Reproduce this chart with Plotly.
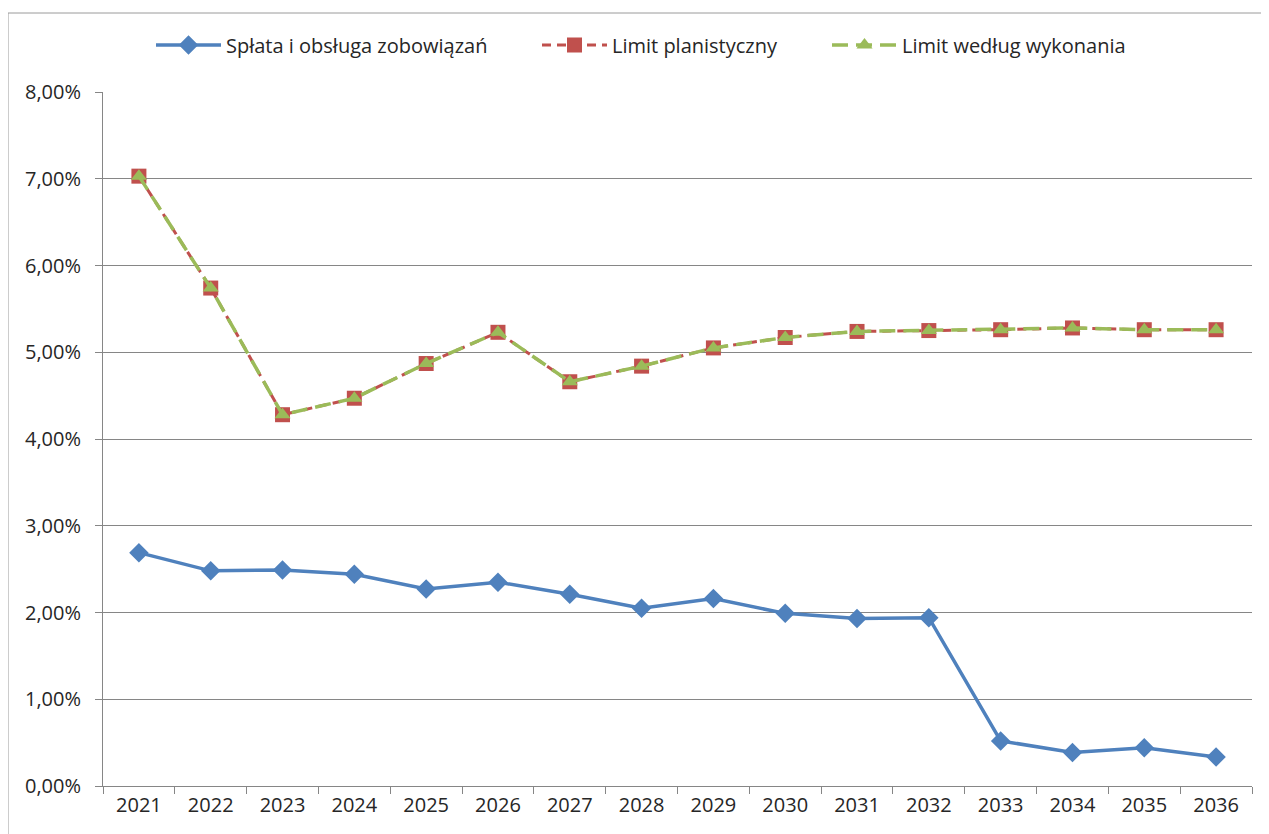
import plotly.graph_objects as go

years = [str(y) for y in range(2021, 2037)]
splata = [2.69, 2.48, 2.49, 2.44, 2.27, 2.35, 2.21, 2.05, 2.16, 1.99, 1.93, 1.94, 0.52, 0.385, 0.44, 0.335]
limit_plan = [7.03, 5.74, 4.28, 4.47, 4.87, 5.23, 4.66, 4.84, 5.05, 5.17, 5.24, 5.25, 5.26, 5.28, 5.26, 5.26]
limit_wyk = [7.03, 5.74, 4.28, 4.47, 4.87, 5.23, 4.66, 4.84, 5.05, 5.17, 5.24, 5.25, 5.26, 5.28, 5.26, 5.26]
y_ticks = [0, 1, 2, 3, 4, 5, 6, 7, 8]
y_tick_labels = ["0,00%", "1,00%", "2,00%", "3,00%", "4,00%", "5,00%", "6,00%", "7,00%", "8,00%"]

FONT = "Open Sans, Lato, sans-serif"
OFF = 8  # page body margin
W, H = 1269 - OFF, 834 - OFF
L, R, T, B = 103 - OFF, 17, 92 - OFF, 48
PW, PH = W - L - R, H - T - B


def px_x(screen_px):
    return (screen_px - OFF - L) / PW


def px_y(screen_py):
    return 1 + (T + OFF - screen_py) / PH


fig = go.Figure()
fig.add_trace(go.Scatter(
    x=years, y=splata, name="Spłata i obsługa zobowiązań", mode="lines+markers",
    line=dict(color="#4F81BD", width=3.5),
    marker=dict(symbol="diamond", size=15, color="#4F81BD"),
    legend="legend",
))
fig.add_trace(go.Scatter(
    x=years, y=limit_plan, name="Limit planistyczny", mode="lines+markers",
    line=dict(color="#C0504D", width=3, dash="9px,6px"),
    marker=dict(symbol="square", size=15, color="#C0504D"),
    legend="legend2",
))
fig.add_trace(go.Scatter(
    x=years, y=limit_wyk, name="Limit według wykonania", mode="lines+markers",
    line=dict(color="#9BBB59", width=3.5, dash="16px,8px"),
    marker=dict(symbol="triangle-up", size=14, color="#9BBB59"),
    legend="legend3",
))

leg_common = dict(orientation="h", xanchor="left", yanchor="middle", y=px_y(45),
                  font=dict(family=FONT, size=20, color="#262626"),
                  bgcolor="rgba(0,0,0,0)", itemwidth=65)
TXT_OFF = 76

fig.update_layout(
    width=W, height=H,
    margin=dict(l=L, r=R, t=T, b=B, autoexpand=False),
    paper_bgcolor="white", plot_bgcolor="white",
    font=dict(family=FONT, size=20, color="#262626"),
    showlegend=True,
    legend=dict(x=px_x(227 - TXT_OFF), **leg_common),
    legend2=dict(x=px_x(613 - TXT_OFF), **leg_common),
    legend3=dict(x=px_x(903 - TXT_OFF), **leg_common),
    xaxis=dict(type="category", range=[-0.5, len(years) - 0.5], showgrid=False,
               showline=True, linecolor="#868686", linewidth=1,
               ticks="outside", tickson="boundaries", ticklen=7, tickcolor="#868686",
               ticklabelstandoff=1, automargin=False,
               tickfont=dict(family=FONT, size=20, color="#262626"), fixedrange=True),
    yaxis=dict(range=[0, 8], tickvals=y_ticks, ticktext=y_tick_labels, showgrid=True,
               gridcolor="#868686", gridwidth=1, showline=True, linecolor="#868686", linewidth=1,
               ticks="outside", ticklen=7, tickcolor="#868686", zeroline=False,
               ticklabelstandoff=10, automargin=False,
               tickfont=dict(family=FONT, size=20, color="#262626"), fixedrange=True),
    shapes=[dict(type="rect", xref="paper", yref="paper",
                 x0=px_x(8), x1=px_x(1290),
                 y0=px_y(850), y1=px_y(13),
                 line=dict(color="#9A9A9A", width=1), fillcolor="rgba(0,0,0,0)", layer="below")],
)

fig.write_html("out.html")
